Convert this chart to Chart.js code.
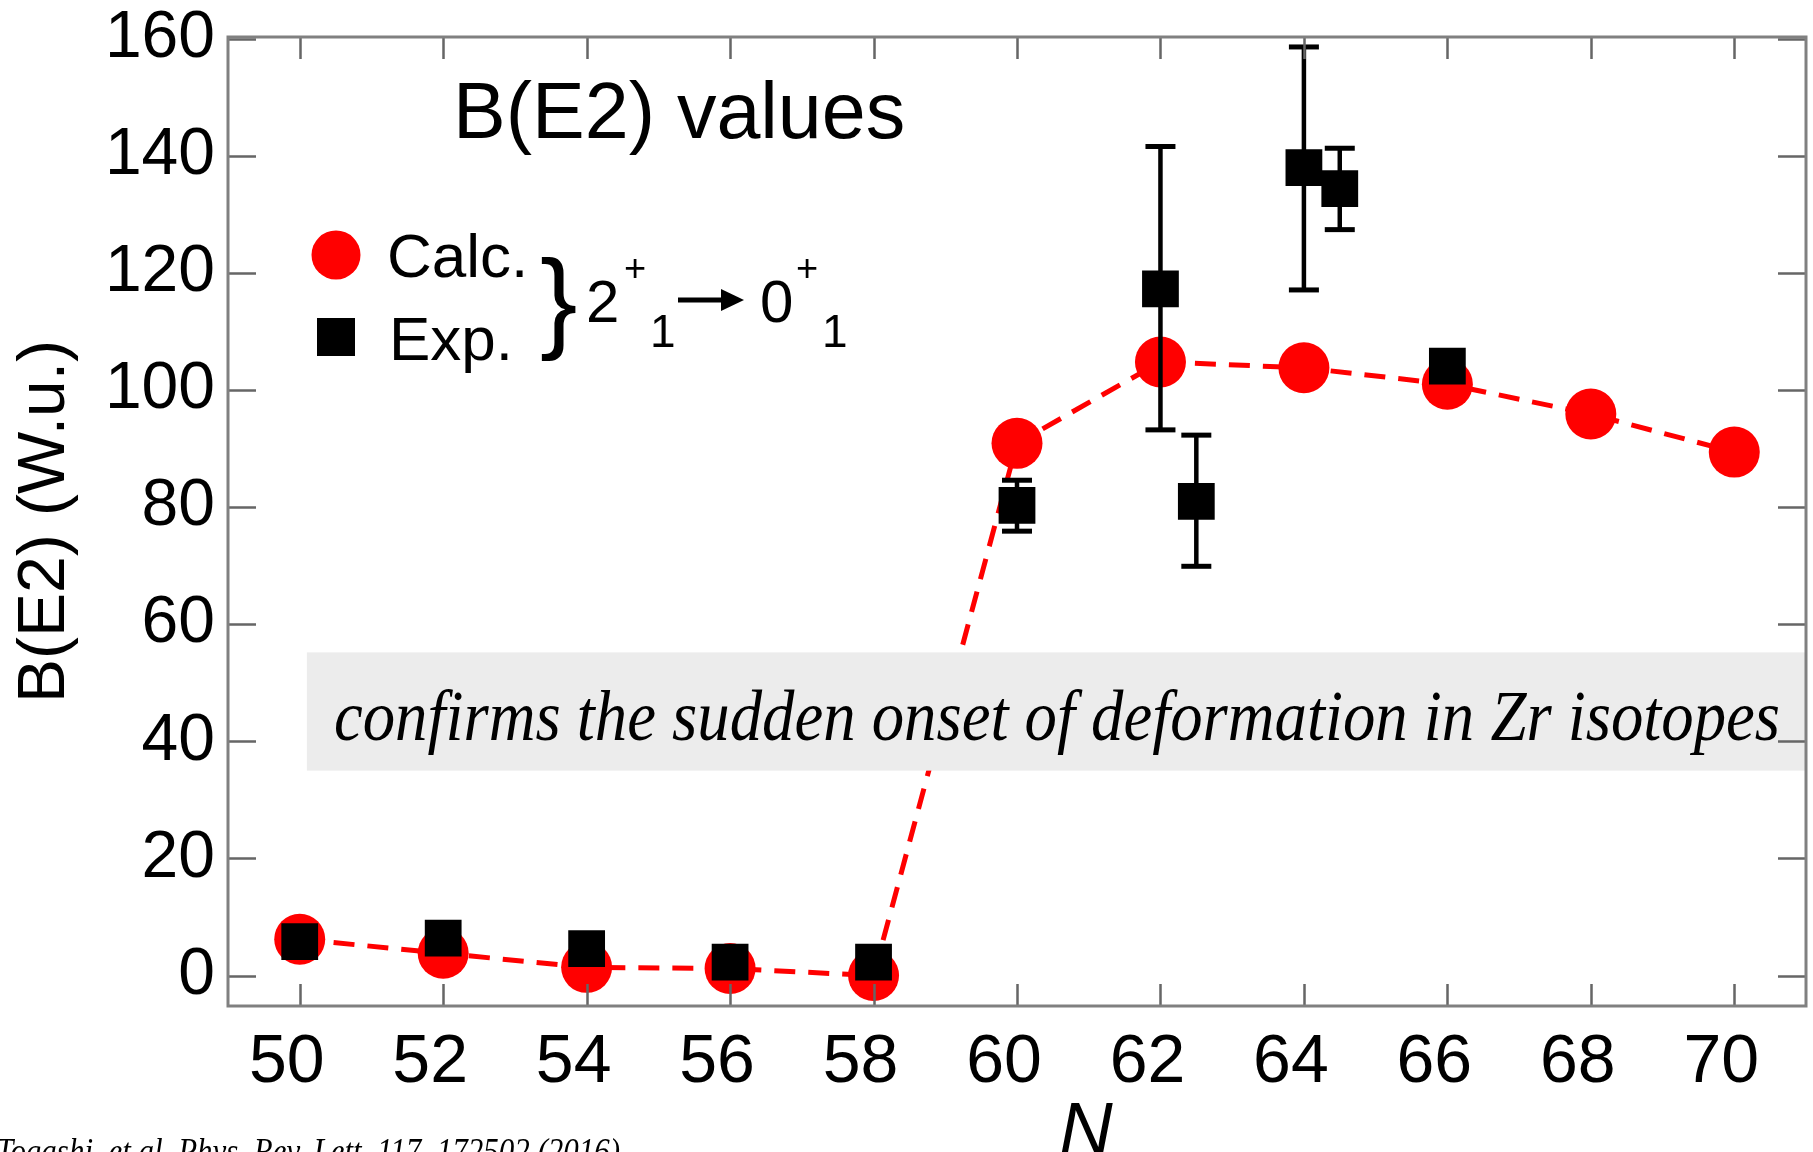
<!DOCTYPE html>
<html>
<head>
<meta charset="utf-8">
<title>B(E2) values</title>
<script src="https://cdn.jsdelivr.net/npm/chart.js@4/dist/chart.umd.min.js"></script>
<style>
  html, body { margin: 0; padding: 0; background: #fff; }
  #wrap { width: 1813px; height: 1152px; overflow: hidden; }
</style>
</head>
<body>
<div id="wrap"><canvas id="be2" width="1813" height="1152"></canvas></div>
<script>
// neutron number N and B(E2; 2+1 -> 0+1) in W.u.
const calcN = [50, 52, 54, 56, 58, 60, 62, 64, 66, 68, 70];
const calcB = [6.2, 3.8, 1.4, 1.2, 0, 90.9, 104.8, 103.8, 101, 95.9, 89.4];

const expN  = [50, 52, 54, 56, 58, 60, 62, 62.5, 64, 64.5, 66];
const expB  = [5.8, 6.4, 4.6, 2.3, 2.3, 80.3, 117.3, 81, 138, 134.4, 104.1];
const expLo = [null, null, null, null, null, 75.9, 93.2, 69.9, 117.1, 127.4, null];
const expHi = [null, null, null, null, null, 84.6, 141.6, 92.3, 158.6, 141.3, null];

const xTicks = [50, 52, 54, 56, 58, 60, 62, 64, 66, 68, 70];
const yTicks = [0, 20, 40, 60, 80, 100, 120, 140, 160];

// grey note band, in data units
const bandX = [50.1, 71];
const bandY = [35.0, 55.2];
const bandText = 'confirms the sudden onset of deformation in Zr isotopes';
const citeText = 'Togashi, et al. Phys. Rev. Lett. 117, 172502 (2016)';

const SANS = '"Liberation Sans", Arial, sans-serif';
const SERIF = '"Liberation Serif", "Times New Roman", serif';

const datasets = [];
datasets.push({
  label: 'Calc.',
  data: calcN.map((n, i) => ({ x: n, y: calcB[i] })),
  showLine: true,
  borderColor: '#ff0000',
  borderWidth: 5,
  borderDash: [21, 13],
  tension: 0,
  pointStyle: 'circle',
  pointRadius: 25.5,
  pointBackgroundColor: '#ff0000',
  pointBorderWidth: 0,
  order: 3,
  clip: false
});
// one small line dataset per error bar, caps drawn as 'line' points
expN.forEach((n, i) => {
  if (expLo[i] == null) return;
  datasets.push({
    label: 'err' + i,
    data: [{ x: n, y: expLo[i] }, { x: n, y: expHi[i] }],
    showLine: true,
    borderColor: '#000',
    borderWidth: 4.5,
    pointStyle: 'line',
    pointRadius: 15,
    pointBorderColor: '#000',
    pointBorderWidth: 5,
    order: 2,
    clip: false
  });
});
datasets.push({
  label: 'Exp.',
  data: expN.map((n, i) => ({ x: n, y: expB[i] })),
  showLine: false,
  pointStyle: 'rect',
  pointRadius: 26,
  pointBackgroundColor: '#000',
  pointBorderWidth: 0,
  order: 1,
  clip: false
});

function fitText(ctx, text, x, y, width) {
  const w = ctx.measureText(text).width;
  ctx.save();
  ctx.translate(x, y);
  ctx.scale(width / w, 1);
  ctx.fillText(text, 0, 0);
  ctx.restore();
}

const decor = {
  id: 'decor',
  afterDatasetsDraw(chart) {
    const { ctx, chartArea: a, scales: { x, y } } = chart;
    ctx.save();

    // note band over the plot
    const bx0 = x.getPixelForValue(bandX[0]);
    const bx1 = x.getPixelForValue(bandX[1]);
    const by0 = y.getPixelForValue(bandY[1]);
    const by1 = y.getPixelForValue(bandY[0]);
    ctx.fillStyle = '#ececec';
    ctx.fillRect(bx0, by0, bx1 - bx0, by1 - by0);
    ctx.fillStyle = '#000';
    ctx.font = 'italic 72px ' + SERIF;
    ctx.textBaseline = 'alphabetic';
    ctx.textAlign = 'left';
    fitText(ctx, bandText, 334, 740, 1446);

    // inward tick marks
    ctx.strokeStyle = '#666';
    ctx.lineWidth = 2.5;
    ctx.beginPath();
    yTicks.forEach(v => {
      const py = Math.round(y.getPixelForValue(v)) + 0.5;
      ctx.moveTo(a.left, py); ctx.lineTo(a.left + 28, py);
      ctx.moveTo(a.right - 28, py); ctx.lineTo(a.right, py);
    });
    xTicks.forEach(v => {
      const px = Math.round(x.getPixelForValue(v)) + 0.5;
      ctx.moveTo(px, a.bottom); ctx.lineTo(px, a.bottom - 22);
      ctx.moveTo(px, a.top); ctx.lineTo(px, a.top + 22);
    });
    ctx.stroke();

    // frame
    ctx.strokeStyle = '#808080';
    ctx.lineWidth = 3;
    ctx.strokeRect(a.left, a.top, a.right - a.left, a.bottom - a.top);

    // panel title
    ctx.fillStyle = '#000';
    ctx.font = '79px ' + SANS;
    ctx.fillText('B(E2) values', 453, 138);

    // legend
    ctx.fillStyle = '#ff0000';
    ctx.beginPath();
    ctx.arc(336, 255, 24.5, 0, Math.PI * 2);
    ctx.fill();
    ctx.fillStyle = '#000';
    ctx.fillRect(317, 318, 38, 38);
    ctx.font = '62px ' + SANS;
    ctx.fillText('Calc.', 387, 277);
    ctx.fillText('Exp.', 389, 360);

    // } 2+1 -> 0+1
    ctx.font = '112px ' + SANS;
    ctx.fillText('}', 540, 338);
    ctx.font = '60px ' + SANS;
    ctx.fillText('2', 586, 322);
    ctx.fillText('0', 760, 322);
    ctx.font = '38px ' + SANS;
    ctx.fillText('+', 624, 281);
    ctx.fillText('+', 796, 281);
    ctx.font = '46px ' + SANS;
    ctx.fillText('1', 650, 347);
    ctx.fillText('1', 822, 347);
    ctx.strokeStyle = '#000';
    ctx.lineWidth = 5;
    ctx.beginPath();
    ctx.moveTo(678, 300); ctx.lineTo(726, 300);
    ctx.stroke();
    ctx.beginPath();
    ctx.moveTo(744, 300); ctx.lineTo(721, 289); ctx.lineTo(721, 311);
    ctx.closePath();
    ctx.fill();

    // x-axis title
    ctx.font = 'italic 74px ' + SANS;
    ctx.textAlign = 'center';
    ctx.fillText('N', 1086, 1154);

    // reference line at the foot
    ctx.textAlign = 'left';
    ctx.font = 'italic 36px ' + SERIF;
    fitText(ctx, citeText, -4, 1163, 624);

    ctx.restore();
  }
};

new Chart(document.getElementById('be2'), {
  type: 'scatter',
  data: { datasets },
  options: {
    responsive: false,
    animation: false,
    events: [],
    layout: { autoPadding: false, padding: { top: 37, right: 7, left: 0, bottom: 0 } },
    plugins: { legend: { display: false }, tooltip: { enabled: false } },
    scales: {
      x: {
        type: 'linear',
        min: 49,
        max: 71,
        afterBuildTicks: s => { s.ticks = xTicks.map(v => ({ value: v })); },
        afterFit: s => { s.height = 146; s.paddingLeft = 0; s.paddingRight = 0; },
        grid: { display: false, drawTicks: false },
        border: { display: false },
        ticks: {
          color: '#000',
          font: { family: SANS, size: 68 },
          padding: 16,
          labelOffset: -13,
          maxRotation: 0,
          autoSkip: false
        }
      },
      y: {
        type: 'linear',
        min: -5.2,
        max: 160.3,
        afterBuildTicks: s => { s.ticks = yTicks.map(v => ({ value: v })); },
        afterFit: s => { s.width = 228; s.paddingTop = 0; s.paddingBottom = 0; },
        grid: { display: false, drawTicks: false },
        border: { display: false },
        ticks: {
          color: '#000',
          font: { family: SANS, size: 66 },
          padding: 13,
          autoSkip: false
        },
        title: {
          display: true,
          text: 'B(E2) (W.u.)',
          color: '#000',
          font: { family: SANS, size: 66 },
          padding: { top: 6, bottom: 0 }
        }
      }
    }
  },
  plugins: [decor]
});
</script>
</body>
</html>
